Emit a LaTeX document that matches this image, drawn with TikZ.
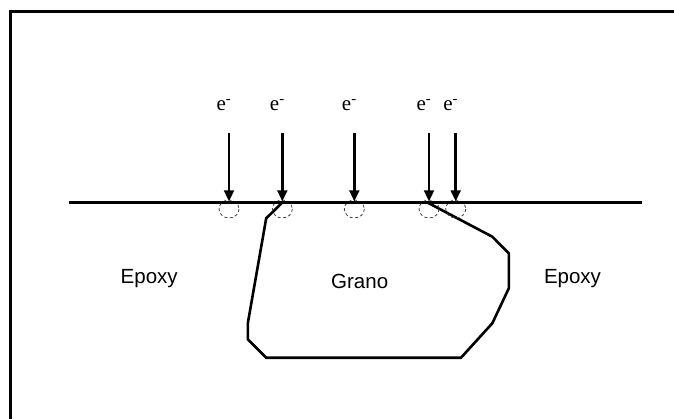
\documentclass[tikz,border=0pt]{standalone}
\usepackage{fontspec}
\setmainfont{Liberation Serif}
\newfontfamily\arialfont{Liberation Sans}
\usetikzlibrary{arrows.meta}

\tikzset{
  surface/.style={line width=3.2pt},
  beam/.style={line width=2.8pt,-{Triangle[width=9.5pt,length=11pt]}},
  spot/.style={line width=0.8pt,black!75,dash pattern=on 3pt off 2.5pt},
  grainline/.style={line width=2.6pt,line join=miter},
  region/.style={anchor=base,font=\arialfont\fontsize{20.5}{24}\selectfont},
  elec/.style={anchor=base,font=\fontsize{21}{24}\selectfont}
}

\begin{document}
\begin{tikzpicture}[x=1pt,y=-1pt]
  \useasboundingbox (0,0) rectangle (674,419);

  % frame: only the left and top edges show
  \draw[line width=3pt,line join=miter] (10.3,419) -- (10.3,11.3) -- (674,11.3);

  % the grain cut by the surface
  \draw[grainline] (282.2,202.7) -- (266.2,218.3) -- (247.8,323.3)
    -- (247.8,339.3) -- (266.2,357.7) -- (461,357.7) -- (492.3,323.3)
    -- (508.8,288.3) -- (508.8,253.3) -- (492.3,236.7) -- (427.8,202.7);

  % interaction volumes under each impact
  \foreach \x in {229,282.3,354.3,429,455.7}
    \draw[spot] (\x,209) ellipse (10 and 9);

  % surface of the sample
  \coordinate (sL) at (69,202.7);
  \coordinate (sR) at (642,202.7);
  \draw[surface] (sL) -- (sR);

  % incoming electrons
  \foreach \x [count=\i] in {229,282.3,354.3,429,455.7}{
    \coordinate (src\i) at (\x,133);
    \coordinate (hit\i) at (\x,201.5);
    \node[elec] (lbl\i) at (\x-5,110.7) {e\textsuperscript{-}};
    \draw[beam] (src\i) -- (hit\i);
  }

  \node[region] (epoxyL) at (149.2,283.3) {Epoxy};
  \node[region] (epoxyR) at (572.5,283.3) {Epoxy};
  \node[region] (grano) at (359.7,289) {Grano};
\end{tikzpicture}
\end{document}
